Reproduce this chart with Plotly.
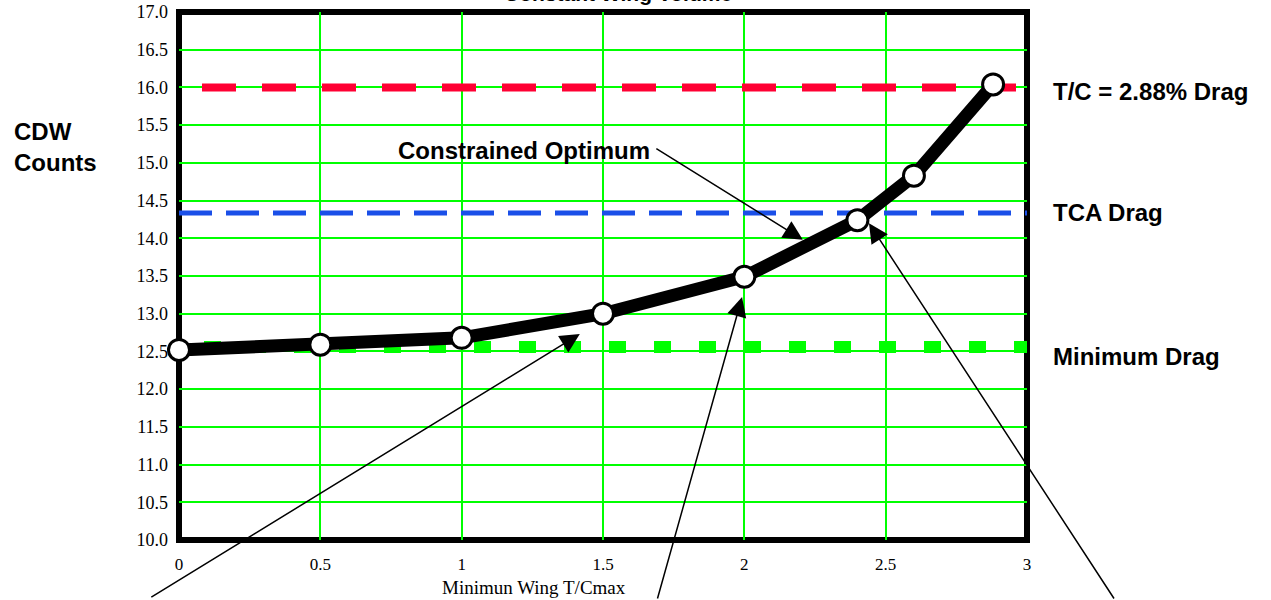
import plotly.graph_objects as go

# Wing thickness sweep vs. drag counts
tc_min = [0, 0.5, 1, 1.5, 2, 2.4, 2.6, 2.88]
cdw_counts = [12.52, 12.59, 12.68, 13.0, 13.49, 14.24, 14.83, 16.04]

# Reference drag levels
tc288_drag = 16.0
tca_drag = 14.335
minimum_drag = 12.56

x_ticks = [0, 0.5, 1, 1.5, 2, 2.5, 3]
x_tick_text = ["0", "0.5", "1", "1.5", "2", "2.5", "3"]
y_ticks = [10.0, 10.5, 11.0, 11.5, 12.0, 12.5, 13.0, 13.5, 14.0, 14.5, 15.0, 15.5, 16.0, 16.5, 17.0]
y_tick_text = [f"{v:.1f}" for v in y_ticks]

SANS = "Liberation Sans, Arial, sans-serif"
SERIF = "Liberation Serif, Times New Roman, serif"
GRID = "#00FF00"

fig = go.Figure()

# Horizontal reference levels
fig.add_trace(go.Scatter(
    x=[x_ticks[0], x_ticks[-1]], y=[tc288_drag, tc288_drag], mode="lines",
    line=dict(color="#FF0033", width=8, dash="0px,23px,34px,3px"),
    hoverinfo="skip", showlegend=False))
fig.add_trace(go.Scatter(
    x=[x_ticks[0], x_ticks[-1]], y=[tca_drag, tca_drag], mode="lines",
    line=dict(color="#1A4FE8", width=5, dash="33px,14px"),
    hoverinfo="skip", showlegend=False))
fig.add_trace(go.Scatter(
    x=[x_ticks[0], x_ticks[-1]], y=[minimum_drag, minimum_drag], mode="lines",
    line=dict(color="#00FF00", width=12, dash="0px,25px,17px,3px"),
    hoverinfo="skip", showlegend=False))

# Drag curve
fig.add_trace(go.Scatter(
    x=tc_min, y=cdw_counts, mode="lines+markers",
    line=dict(color="black", width=13),
    marker=dict(size=21, color="white", line=dict(color="black", width=3)),
    cliponaxis=False, showlegend=False))

# Heavy black frame around the plotting area
fig.add_shape(type="rect", xref="paper", yref="paper", x0=0, x1=1, y0=0, y1=1,
              line=dict(color="black", width=6), layer="between")

annotations = [
    dict(text="<b>Constant Wing Volume</b>", xref="paper", yref="paper",
         x=0.518, y=1.0095, xanchor="center", yanchor="bottom", showarrow=False,
         font=dict(family=SANS, size=21, color="black")),
    dict(text="<b>CDW<br>Counts</b>", xref="paper", yref="paper",
         x=-0.197, y=0.745, xanchor="left", yanchor="middle", align="left",
         showarrow=False, font=dict(family=SANS, size=24, color="black")),
    dict(text="<b>T/C = 2.88% Drag</b>", xref="paper", yref="y",
         x=1.028, y=15.95, xanchor="left", yanchor="middle", showarrow=False,
         font=dict(family=SANS, size=24, color="black")),
    dict(text="<b>TCA Drag</b>", xref="paper", yref="y",
         x=1.028, y=14.34, xanchor="left", yanchor="middle", showarrow=False,
         font=dict(family=SANS, size=24, color="black")),
    dict(text="<b>Minimum Drag</b>", xref="paper", yref="y",
         x=1.028, y=12.43, xanchor="left", yanchor="middle", showarrow=False,
         font=dict(family=SANS, size=24, color="black")),
    dict(text="<b>Constrained Optimum</b>", xref="x", yref="y",
         x=1.673, y=15.17, xanchor="right", yanchor="middle", showarrow=False,
         font=dict(family=SANS, size=24, color="black")),
    dict(text="Minimun Wing T/Cmax", xref="paper", yref="paper",
         x=0.419, y=-0.09, xanchor="center", yanchor="middle", showarrow=False,
         font=dict(family=SERIF, size=19, color="black")),
]

# Pointer arrows (tip in data units, tail as pixel offset)
arrows = [
    (2.207, 13.98, -148, -92),
    (1.418, 12.73, -430, 264),
    (1.992, 13.22, -85, 303),
    (2.441, 14.20, 246, 377),
]
for ax_x, ax_y, dx, dy in arrows:
    annotations.append(dict(
        text="", x=ax_x, y=ax_y, xref="x", yref="y", ax=dx, ay=dy,
        showarrow=True, arrowhead=2, arrowsize=2.6, arrowwidth=1.5,
        arrowcolor="black", standoff=0, startstandoff=0))

fig.update_layout(
    width=1271, height=600,
    margin=dict(l=179, r=244, t=12, b=60, autoexpand=False),
    paper_bgcolor="white", plot_bgcolor="white",
    showlegend=False,
    annotations=annotations,
    xaxis=dict(range=[0, 3], tickvals=x_ticks, ticktext=x_tick_text,
               showgrid=True, gridcolor=GRID, gridwidth=2, zeroline=False,
               showline=False, ticks="", ticklabelstandoff=12, automargin=False,
               tickfont=dict(family=SERIF, size=17, color="black")),
    yaxis=dict(range=[10, 17], tickvals=y_ticks, ticktext=y_tick_text,
               showgrid=True, gridcolor=GRID, gridwidth=2, zeroline=False,
               showline=False, ticks="", ticklabelstandoff=10, automargin=False,
               tickfont=dict(family=SERIF, size=18, color="black")),
)

fig.write_html("out.html")
